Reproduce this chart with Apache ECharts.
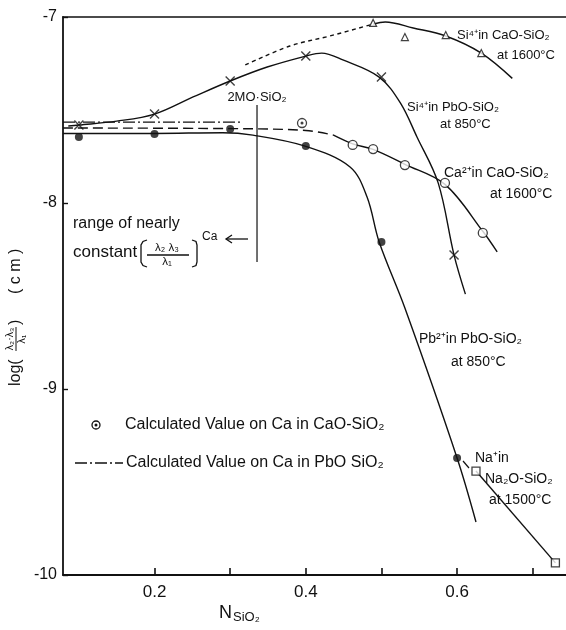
<!DOCTYPE html>
<html>
<head>
<meta charset="utf-8">
<script src="https://cdn.jsdelivr.net/npm/echarts@6/dist/echarts.min.js"></script>
<style>html,body{margin:0;padding:0;background:#fff;}#c{width:566px;height:630px;}</style>
</head>
<body>
<div id="c"></div>
<script>
// ---------- axis ticks ----------
const xTickValues = [0.2, 0.3, 0.4, 0.5, 0.6, 0.7];
const xLabelValues = [0.2, 0.4, 0.6];
const yTickValues = [-7, -8, -9, -10];

// ---------- Si4+ in CaO-SiO2 at 1600°C (triangles) ----------
const siCaO_x = [0.489, 0.531, 0.585, 0.632];
const siCaO_y = [-7.032, -7.108, -7.097, -7.194];
const siCaO_dashedCurve = [[0.320, -7.258], [0.379, -7.156], [0.432, -7.102], [0.489, -7.038]];
const siCaO_curve = [[0.489, -7.038], [0.505, -7.027], [0.542, -7.059], [0.585, -7.102], [0.632, -7.194], [0.673, -7.330]];

// ---------- Si4+ in PbO-SiO2 at 850°C (crosses) ----------
const siPbO_x = [0.1, 0.2, 0.3, 0.4, 0.5, 0.596];
const siPbO_y = [-7.581, -7.522, -7.344, -7.210, -7.323, -8.280];
const siPbO_curve = [[0.086, -7.586], [0.1, -7.581], [0.15, -7.560], [0.2, -7.522], [0.251, -7.430], [0.3, -7.344],
  [0.349, -7.269], [0.4, -7.210], [0.421, -7.194], [0.449, -7.231], [0.497, -7.323], [0.525, -7.462],
  [0.547, -7.645], [0.575, -7.892], [0.596, -8.280], [0.611, -8.490]];

// ---------- Pb2+ in PbO-SiO2 at 850°C (filled dots) ----------
const pbPbO_x = [0.1, 0.2, 0.3, 0.4, 0.5, 0.6];
const pbPbO_y = [-7.645, -7.629, -7.602, -7.694, -8.210, -9.371];
const pbPbO_curve = [[0.079, -7.626], [0.2, -7.626], [0.29, -7.622], [0.33, -7.635], [0.399, -7.694],
  [0.4585, -7.806], [0.481, -7.968], [0.497, -8.210], [0.531, -8.565], [0.6, -9.371], [0.625, -9.715]];

// ---------- Ca2+ in CaO-SiO2 at 1600°C (open circles) ----------
const caCaO_x = [0.462, 0.489, 0.531, 0.584, 0.634];
const caCaO_y = [-7.688, -7.710, -7.796, -7.892, -8.161];
const caCaO_dashedCurve = [[0.079, -7.597], [0.3, -7.600], [0.4, -7.610], [0.436, -7.634]];
const caCaO_curve = [[0.436, -7.634], [0.462, -7.682], [0.489, -7.712], [0.531, -7.792], [0.584, -7.900], [0.634, -8.152], [0.653, -8.263]];

// ---------- Calculated values ----------
const calcCaO_point = [[0.395, -7.570]];
const calcPbO_line = [[0.079, -7.565], [0.317, -7.565]];

// ---------- Na+ in Na2O-SiO2 at 1500°C (squares) ----------
const naNa2O_x = [0.625, 0.730];
const naNa2O_y = [-9.441, -9.935];

// ---------- 2MO·SiO2 composition marker ----------
const twoMO_line = [[0.3355, -7.473], [0.3355, -8.317]];

const zip = (xs, ys) => xs.map((x, i) => [x, ys[i]]);
const INK = '#111';
const FF = '"Liberation Sans", Arial, sans-serif';

const lineS = (data, dashed, extra) => Object.assign({
  type: 'line', data: data, symbol: 'none', smooth: 0.35, silent: true,
  lineStyle: { color: INK, width: 1.4, type: dashed ? dashed : 'solid' }, z: 2
}, extra || {});

const series = [
  lineS(siCaO_dashedCurve, [4, 3.5]),
  lineS(siCaO_curve),
  lineS(siPbO_curve),
  lineS(pbPbO_curve),
  lineS(caCaO_dashedCurve, [10, 5]),
  lineS(caCaO_curve),
  lineS(calcPbO_line, [12, 3, 2, 3], { smooth: false }),
  lineS(zip(naNa2O_x, naNa2O_y), null, { smooth: false }),
  lineS(twoMO_line, null, { smooth: false, lineStyle: { color: INK, width: 1.2 } }),
  { type: 'scatter', data: zip(siCaO_x, siCaO_y), symbol: 'triangle', symbolSize: 7,
    itemStyle: { color: '#fff', borderColor: INK, borderWidth: 1.2 }, z: 4 },
  { type: 'scatter', data: zip(siPbO_x, siPbO_y), symbol: 'path://M0,0L10,10M10,0L0,10', symbolSize: 9,
    itemStyle: { color: 'none', borderColor: INK, borderWidth: 1.4 }, z: 4 },
  { type: 'scatter', data: zip(pbPbO_x, pbPbO_y), symbol: 'circle', symbolSize: 8,
    itemStyle: { color: INK }, z: 4 },
  { type: 'scatter', data: zip(caCaO_x, caCaO_y), symbol: 'circle', symbolSize: 9,
    itemStyle: { color: '#fff', borderColor: INK, borderWidth: 1.3 }, z: 4 },
  { type: 'scatter', data: calcCaO_point, symbol: 'circle', symbolSize: 9,
    itemStyle: { color: '#fff', borderColor: INK, borderWidth: 1.3 }, z: 4 },
  { type: 'scatter', data: calcCaO_point, symbol: 'circle', symbolSize: 3,
    itemStyle: { color: INK }, z: 5 },
  { type: 'scatter', data: zip(naNa2O_x, naNa2O_y), symbol: 'rect', symbolSize: 8,
    itemStyle: { color: '#fff', borderColor: INK, borderWidth: 1.3 }, z: 4 }
];

const T = (x, y, text, size, align, extra) => ({
  type: 'text', x: x, y: y, silent: true,
  style: Object.assign({ text: text, font: size + 'px ' + FF, fill: INK,
    textAlign: align || 'left', textVerticalAlign: 'middle' }, extra || {})
});
const L = (x1, y1, x2, y2, w, dash) => ({
  type: 'line', silent: true, shape: { x1: x1, y1: y1, x2: x2, y2: y2 },
  style: { stroke: INK, lineWidth: w || 1.2, lineDash: dash || null }
});
const P = (pts, w) => ({
  type: 'polyline', silent: true, shape: { points: pts },
  style: { stroke: INK, fill: null, lineWidth: w || 1.3 }
});

const graphics = [
  // curve labels
  T(457, 35, 'Si⁴⁺in CaO-SiO₂', 13),
  T(497, 55, 'at 1600°C', 13),
  T(407, 107, 'Si⁴⁺in PbO-SiO₂', 13),
  T(440, 124, 'at 850°C', 13),
  T(444, 173, 'Ca²⁺in CaO-SiO₂', 14),
  T(490, 194, 'at 1600°C', 14),
  T(419, 339, 'Pb²⁺in PbO-SiO₂', 14),
  T(451, 362, 'at 850°C', 14),
  T(475, 458, 'Na⁺in', 14),
  T(485, 479, 'Na₂O-SiO₂', 14),
  T(489, 500, 'at 1500°C', 14),
  L(463, 461, 469, 468, 1.2),
  T(257, 97, '2MO·SiO₂', 13, 'center'),
  // range annotation
  T(73, 224, 'range of nearly', 16),
  T(73, 252, 'constant', 17),
  P([[147, 240], [143, 241.5], [141, 245], [141, 262], [143, 265.5], [147, 267]]),
  T(167, 248, 'λ₂ λ₃', 11.5, 'center'),
  L(147, 255, 189, 255, 1.3),
  T(167, 262, 'λ₁', 11.5, 'center'),
  P([[192, 240], [196, 241.5], [197, 245], [197, 262], [196, 265.5], [192, 267]]),
  T(202, 237, 'Ca', 12),
  L(226, 239, 248, 239, 1.3),
  P([[232, 235], [226, 239], [232, 243]]),
  // legend
  { type: 'circle', silent: true, shape: { cx: 96, cy: 425, r: 4 }, style: { stroke: INK, fill: '#fff', lineWidth: 1.3 } },
  { type: 'circle', silent: true, shape: { cx: 96, cy: 425, r: 1.5 }, style: { fill: INK } },
  T(125, 425, 'Calculated Value on Ca in CaO-SiO₂', 16),
  L(75, 463, 123, 463, 1.4, [12, 3, 2, 3]),
  T(126, 463, 'Calculated Value on Ca in PbO SiO₂', 16),
  // x axis name
  T(219, 613, 'N', 18),
  T(233, 617, 'SiO₂', 13),
  // y axis name (rotated)
  { type: 'group', x: 16, y: 318, rotation: Math.PI / 2, silent: true, children: [
    T(-68, 0, 'log(', 16),
    T(-21, -6, 'λ₂·λ₃', 10.5, 'center'),
    L(-33, 0, -9, 0, 1),
    T(-21, 6, 'λ₁', 10.5, 'center'),
    T(-7, 0, ')', 16),
    T(24, 0, '( c m )', 16)
  ] }
];

const chart = echarts.init(document.getElementById('c'), null, { renderer: 'canvas' });
chart.setOption({
  backgroundColor: '#fff',
  animation: false,
  grid: { left: 63, right: 0, top: 17, bottom: 55, containLabel: false },
  xAxis: [{
    type: 'value', min: 0.079, max: 0.744,
    axisLine: { show: true, lineStyle: { color: INK, width: 1.8 } },
    axisTick: { show: true, inside: true, length: 7, customValues: xTickValues, lineStyle: { color: INK, width: 1.6 } },
    axisLabel: { show: true, customValues: xLabelValues, formatter: v => v.toFixed(1), color: INK, fontSize: 17, fontFamily: FF, margin: 9 },
    splitLine: { show: false }
  }, {
    type: 'value', min: 0.079, max: 0.744, position: 'top',
    axisLine: { show: true, lineStyle: { color: INK, width: 1.5 } },
    axisTick: { show: false }, axisLabel: { show: false }, splitLine: { show: false }
  }],
  yAxis: {
    type: 'value', min: -10, max: -7, interval: 1,
    axisLine: { show: true, lineStyle: { color: INK, width: 1.8 } },
    axisTick: { show: true, inside: true, length: 5, customValues: yTickValues, lineStyle: { color: INK, width: 1.4 } },
    axisLabel: { color: INK, fontSize: 16, fontFamily: FF, margin: 6, formatter: v => String(v) },
    splitLine: { show: false }
  },
  series: series,
  graphic: { elements: graphics }
});
</script>
</body>
</html>
